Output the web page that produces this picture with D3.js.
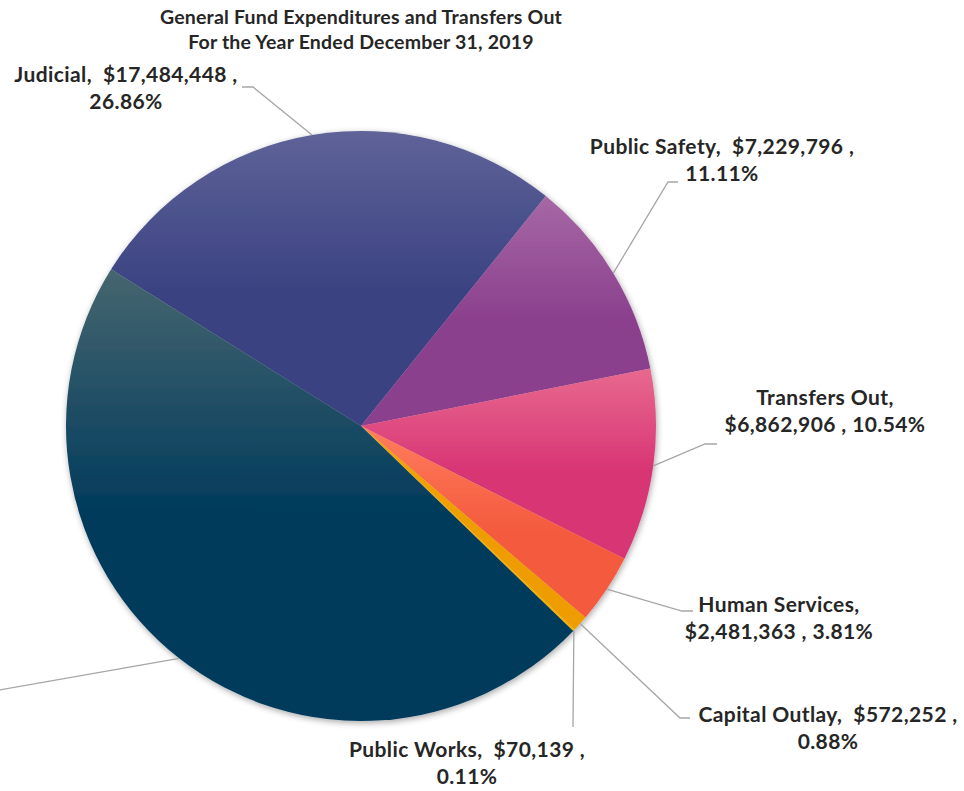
<!DOCTYPE html>
<html>
<head>
<meta charset="utf-8">
<script src="https://cdn.jsdelivr.net/npm/d3@7"></script>
<style>
  html, body { margin: 0; padding: 0; background: #ffffff; }
  svg { display: block; }
  text { font-family: Lato, "Open Sans", sans-serif; font-weight: bold; fill: #262626; white-space: pre; }
</style>
</head>
<body>
<svg id="chart" width="964" height="791"></svg>
<script>
// ---- data ----
const titleLines = ["General Fund Expenditures and Transfers Out", "For the Year Ended December 31, 2019"];
const categories = ["Judicial", "Public Safety", "Transfers Out", "Human Services", "Capital Outlay", "Public Works", "General Government"];
const values = [17484448, 7229796, 6862906, 2481363, 572252, 70139, 30393839];
const percentLabels = ["26.86%", "11.11%", "10.54%", "3.81%", "0.88%", "0.11%", "46.69%"];
const topColors = ["#5f6398", "#a668a5", "#e7698f", "#ff7d5e", "#f2a600", "#ffc000", "#46666f"];
const bottomColors = ["#3a4282", "#8a3f8c", "#d83474", "#f45a3e", "#ee9c00", "#f5b000", "#003a5c"];

// ---- layout (positions of labels / leader elbows) ----
const cx = 361, cy = 426, R = 295;
const startDeg = -57.9;
const labelLayout = [
  { lines: d => [`${d.cat},  ${d.money} ,`, d.pct], x: 126, y: 82, elbow: [253, 87], end: [242, 87] },
  { lines: d => [`${d.cat},  ${d.money} ,`, d.pct], x: 722, y: 154, elbow: [668, 182], end: [678, 182] },
  { lines: d => [`${d.cat},`, `${d.money} , ${d.pct}`], x: 825, y: 405, elbow: [705, 444], end: [717, 444] },
  { lines: d => [`${d.cat},`, `${d.money} , ${d.pct}`], x: 779, y: 612, elbow: [682, 611], end: [693, 611] },
  { lines: d => [`${d.cat},  ${d.money} ,`, d.pct], x: 828, y: 722, elbow: [680, 718], end: [690, 718] },
  { lines: d => [`${d.cat},  ${d.money} ,`, d.pct], x: 467, y: 757, elbow: null, end: [573, 727] },
  { lines: null, x: null, y: null, elbow: null, end: [-40, 697] }
];

const svg = d3.select("#chart");
const defs = svg.append("defs");

const shadow = defs.append("filter").attr("id", "shadow")
  .attr("x", "-10%").attr("y", "-10%").attr("width", "120%").attr("height", "120%");
shadow.append("feDropShadow").attr("dx", 1).attr("dy", 2).attr("stdDeviation", 3)
  .attr("flood-color", "#000").attr("flood-opacity", 0.35);

categories.forEach((c, i) => {
  const g = defs.append("linearGradient").attr("id", "grad" + i)
    .attr("x1", 0).attr("y1", 0).attr("x2", 0).attr("y2", 1);
  g.append("stop").attr("offset", "0%").attr("stop-color", topColors[i]);
  g.append("stop").attr("offset", "55%").attr("stop-color", bottomColors[i]);
  g.append("stop").attr("offset", "100%").attr("stop-color", bottomColors[i]);
});

const data = categories.map((c, i) => ({
  cat: c, value: values[i], pct: percentLabels[i],
  money: d3.format("$,")(values[i]), i
}));

const toRad = d => d * Math.PI / 180;
const pie = d3.pie().sort(null).value(d => d.value)
  .startAngle(toRad(startDeg)).endAngle(toRad(startDeg + 360));
const arcs = pie(data);
const arc = d3.arc().innerRadius(0).outerRadius(R);

const gPie = svg.append("g").attr("transform", `translate(${cx},${cy})`);
gPie.append("g").attr("filter", "url(#shadow)")
  .selectAll("path").data(arcs).enter().append("path")
  .attr("d", arc)
  .attr("fill", d => `url(#grad${d.data.i})`);

// leader lines
const edgePoint = d => {
  const a = (d.startAngle + d.endAngle) / 2;
  return [cx + R * Math.sin(a), cy - R * Math.cos(a)];
};
const lineGen = d3.line();
svg.append("g").selectAll("path").data(arcs).enter().append("path")
  .attr("d", d => {
    const L = labelLayout[d.data.i];
    const pts = [edgePoint(d)];
    if (L.elbow) pts.push(L.elbow);
    pts.push(L.end);
    return lineGen(pts);
  })
  .attr("fill", "none").attr("stroke", "#a6a6a6").attr("stroke-width", 1.3);

// labels
const gLab = svg.append("g");
arcs.forEach(d => {
  const L = labelLayout[d.data.i];
  if (!L.lines) return;
  const t = gLab.append("text").attr("text-anchor", "middle")
    .attr("font-size", 21).attr("letter-spacing", 0.4);
  L.lines(d.data).forEach((ln, k) => {
    t.append("tspan").attr("x", L.x).attr("y", L.y + k * 27).text(ln);
  });
});

// title
svg.append("g").selectAll("text").data(titleLines).enter().append("text")
  .attr("x", 361).attr("y", (d, i) => 24 + i * 25)
  .attr("text-anchor", "middle").attr("font-size", 19.5).attr("letter-spacing", 0.2)
  .text(d => d);
</script>
</body>
</html>
